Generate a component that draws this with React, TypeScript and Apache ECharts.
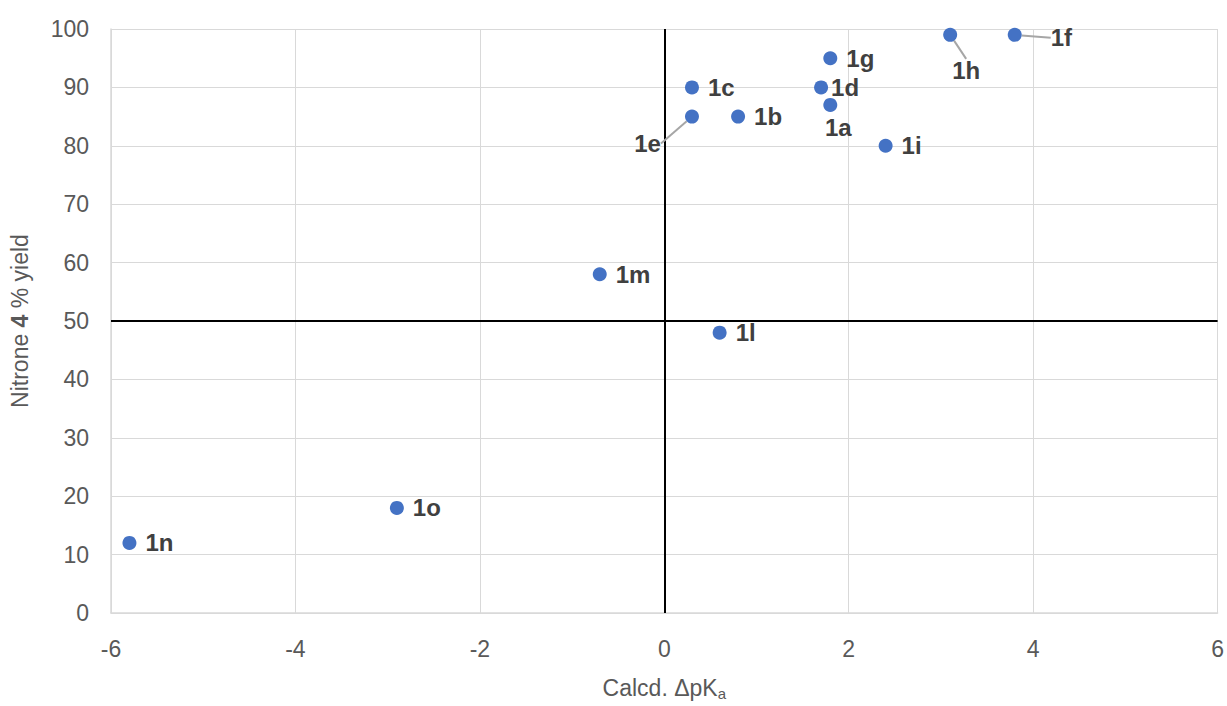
import React, { useEffect, useRef } from "react";
import * as echarts from "echarts";

const labels = ["1a", "1b", "1c", "1d", "1e", "1f", "1g", "1h", "1i", "1l", "1m", "1n", "1o"];
const dpKa = [1.8, 0.8, 0.3, 1.7, 0.3, 3.8, 1.8, 3.1, 2.4, 0.6, -0.7, -5.8, -2.9];
const yieldPct = [87, 85, 90, 90, 85, 99, 95, 99, 80, 48, 58, 12, 18];

const xTicks = { min: -6, max: 6, interval: 2 };
const yTicks = { min: 0, max: 100, interval: 10 };

// label placement per point (style only)
const labelPlacement: Record<string, any> = {
  "1a": { position: "bottom", distance: 4 },
  "1d": { position: "right", distance: 3 },
  "1e": { position: "left", distance: 5 },
  "1f": { position: "right", distance: 5 },
  "1h": { position: "bottom", distance: 5 },
};
const labelShift: Record<string, [number, number]> = {
  "1a": [8, 0],
  "1e": [-19, 27],
  "1f": [24, 3],
  "1h": [16, 12],
};
const withLeader = ["1e", "1f", "1h"];

export default function App() {
  const ref = useRef<HTMLDivElement>(null);
  useEffect(() => {
    if (!ref.current) return;
    const chart = echarts.init(ref.current, null, { renderer: "svg" });
    const data = labels.map((name, i) => {
      const item: any = { name, value: [dpKa[i], yieldPct[i]] };
      if (labelPlacement[name]) item.label = { ...labelPlacement[name] };
      if (withLeader.includes(name)) item.labelLine = { show: true };
      return item;
    });
    const gridColor = "#d9d9d9";
    const textColor = "#595959";
    const font = "Liberation Sans, Arial";
    chart.setOption({
      animation: false,
      backgroundColor: "#ffffff",
      grid: { left: 108, right: 9, top: 29, bottom: 89, containLabel: false },
      xAxis: {
        type: "value",
        min: xTicks.min,
        max: xTicks.max,
        interval: xTicks.interval,
        axisLine: { show: true, onZero: false, lineStyle: { color: gridColor, width: 1.5 } },
        axisTick: { show: false },
        splitLine: { show: true, lineStyle: { color: gridColor, width: 1 } },
        axisLabel: { color: textColor, fontSize: 23, fontFamily: font, margin: 24 },
        name: "{t|Calcd. ΔpK}{s|a}",
        nameLocation: "middle",
        nameGap: 62,
        nameTextStyle: {
          rich: {
            t: { color: textColor, fontSize: 23, fontFamily: font },
            s: { color: textColor, fontSize: 15, fontFamily: font, padding: [11, 0, 0, 0] },
          },
        },
      },
      yAxis: {
        type: "value",
        min: yTicks.min,
        max: yTicks.max,
        interval: yTicks.interval,
        axisLine: { show: true, onZero: false, lineStyle: { color: gridColor, width: 1.5 } },
        axisTick: { show: false },
        splitLine: { show: true, lineStyle: { color: gridColor, width: 1 } },
        axisLabel: { color: textColor, fontSize: 23, fontFamily: font, margin: 22 },
        name: "{t|Nitrone }{b|4}{t| % yield}",
        nameLocation: "middle",
        nameGap: 80,
        nameTextStyle: {
          rich: {
            t: { color: textColor, fontSize: 23, fontFamily: font },
            b: { color: textColor, fontSize: 23, fontWeight: "bold", fontFamily: font },
          },
        },
      },
      series: [
        {
          type: "scatter",
          data,
          symbol: "circle",
          symbolSize: 14,
          itemStyle: { color: "#4472C4", opacity: 1 },
          label: {
            show: true,
            formatter: "{b}",
            position: "right",
            distance: 9,
            color: "#404040",
            fontSize: 24,
            fontWeight: "bold",
            fontFamily: font,
          },
          labelLine: { show: false, lineStyle: { color: "#a6a6a6", width: 2 } },
          labelLayout: (params: any) => {
            const name = labels[params.dataIndex];
            const s = labelShift[name];
            if (s) return { dx: s[0], dy: s[1] };
            return {};
          },
          markLine: {
            silent: true,
            symbol: "none",
            label: { show: false },
            lineStyle: { color: "#000000", width: 2, type: "solid" },
            data: [{ xAxis: 0 }, { yAxis: 50 }],
          },
          z: 5,
        },
      ],
    });
    return () => chart.dispose();
  }, []);
  return <div ref={ref} style={{ width: 1227, height: 706, position: "absolute", left: 0, top: 0 }} />;
}
